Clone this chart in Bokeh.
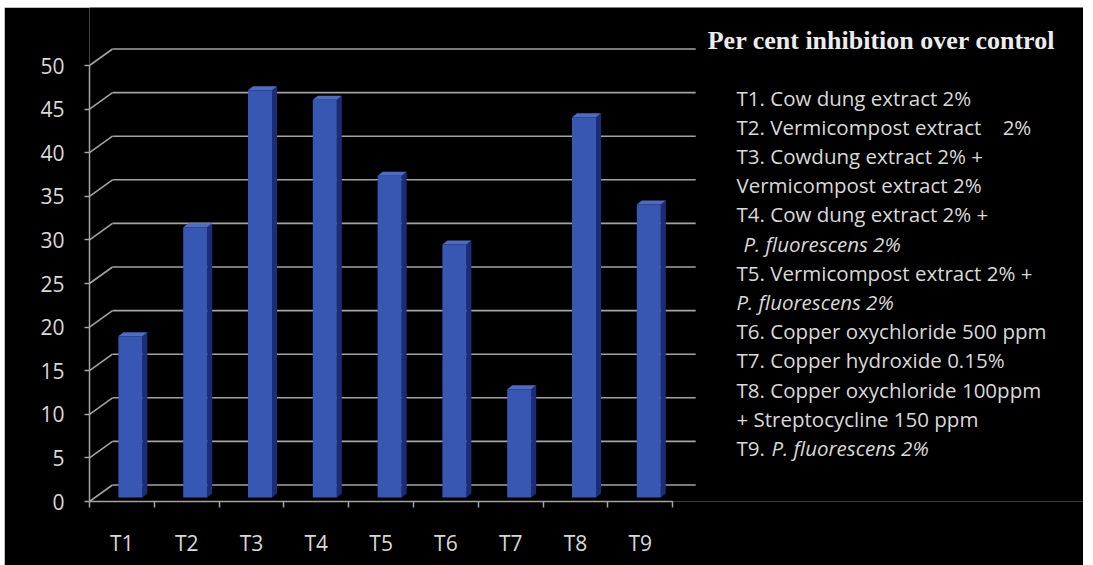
from bokeh.plotting import figure
from bokeh.models import Range1d, FixedTicker, Spacer
from bokeh.layouts import column, row
from bokeh.core.properties import value
from bokeh.embed import file_html
from bokeh.resources import INLINE

# ---- data -------------------------------------------------------------
treatments = ["T1", "T2", "T3", "T4", "T5", "T6", "T7", "T8", "T9"]
inhibition = [18.5, 31.0, 46.7, 45.6, 36.9, 29.0, 12.4, 43.6, 33.6]
y_ticks = [0, 5, 10, 15, 20, 25, 30, 35, 40, 45, 50]

legend_title = "Per cent inhibition over control"
# (regular part, italic part, italic indent in px)
legend_lines = [
    ("T1. Cow dung extract 2%", "", 0),
    ("T2. Vermicompost extract\u00a0\u00a0\u00a0\u00a02%", "", 0),
    ("T3. Cowdung extract 2% +", "", 0),
    ("Vermicompost extract 2%", "", 0),
    ("T4. Cow dung extract 2% +", "", 0),
    ("", "P. fluorescens 2%", 7),
    ("T5. Vermicompost extract 2% +", "", 0),
    ("", "P. fluorescens 2%", 0),
    ("T6. Copper oxychloride 500 ppm", "", 0),
    ("T7. Copper hydroxide 0.15%", "", 0),
    ("T8. Copper oxychloride 100ppm", "", 0),
    ("+ Streptocycline 150 ppm", "", 0),
    ("T9. ", "P. fluorescens 2%", 35),
]

# ---- geometry (pixels) ------------------------------------------------
PAGE_LEFT, PAGE_TOP = 4, 7
FIG_W, FIG_H = 1079, 558
BORDER_L, BORDER_B = 85, 64
PX_X = 64.8          # pixels per category
PX_Y = 8.72          # pixels per percent
frame_w = FIG_W - BORDER_L
frame_h = FIG_H - BORDER_B
frame_left_page = PAGE_LEFT + BORDER_L
frame_bottom_page = PAGE_TOP + frame_h


def px_x(page_x):
    return (page_x - frame_left_page) / PX_X


def px_y(page_y):
    return (frame_bottom_page - page_y) / PX_Y


DEPTH_X = 23 / PX_X      # back wall offset
DEPTH_Y = 16.5 / PX_Y
BAR_SHIFT = 8.5 / PX_X   # bars sit a little behind the front axis
BAR_BASE = 4 / PX_Y
BAR_W = 24 / PX_X
CAP_X = 5 / PX_X         # bar depth (side / top faces)
CAP_Y = 4 / PX_Y

GRID = "#a3a3a3"
TEXT = "#d9d9d9"

p = figure(width=FIG_W, height=FIG_H,
           x_range=Range1d(0, frame_w / PX_X), y_range=Range1d(0, frame_h / PX_Y),
           output_backend="svg", toolbar_location=None,
           min_border_left=BORDER_L, min_border_right=0,
           min_border_top=0, min_border_bottom=BORDER_B,
           background_fill_color="black", border_fill_color="black",
           outline_line_color=None)
p.grid.visible = False

n = len(treatments)

# back wall gridlines and the floor/side diagonals
p.segment(x0=[DEPTH_X] * len(y_ticks), y0=[v + DEPTH_Y for v in y_ticks],
          x1=[n + DEPTH_X] * len(y_ticks), y1=[v + DEPTH_Y for v in y_ticks],
          line_color=GRID, line_width=1.6)
p.segment(x0=[0] * len(y_ticks), y0=y_ticks,
          x1=[DEPTH_X] * len(y_ticks), y1=[v + DEPTH_Y for v in y_ticks],
          line_color=GRID, line_width=1.6)

# 3-D columns: front face, darker side face, lighter top face
centers = [i + 0.5 + BAR_SHIFT for i in range(n)]
tops = [BAR_BASE + v for v in inhibition]
lefts = [c - BAR_W / 2 for c in centers]
rights = [c + BAR_W / 2 for c in centers]

side_xs = [[r, r + CAP_X, r + CAP_X, r] for r in rights]
side_ys = [[BAR_BASE, BAR_BASE + CAP_Y, t + CAP_Y, t] for t in tops]
p.patches(side_xs, side_ys, fill_color="#1c2c78", line_color=None)

top_xs = [[l, r, r + CAP_X, l + CAP_X] for l, r in zip(lefts, rights)]
top_ys = [[t, t, t + CAP_Y, t + CAP_Y] for t in tops]
p.patches(top_xs, top_ys, fill_color="#4d6cc6", line_color=None)

p.vbar(x=centers, width=BAR_W, bottom=BAR_BASE, top=tops,
       fill_color="#3857b2", line_color=None)

# axes
p.yaxis.ticker = FixedTicker(ticks=y_ticks, minor_ticks=[])
p.yaxis.bounds = (0, 50)
p.yaxis.axis_line_color = GRID
p.yaxis.axis_line_width = 1.5
p.yaxis.major_tick_line_color = GRID
p.yaxis.major_tick_line_width = 1.5
p.yaxis.major_tick_out = 5
p.yaxis.major_tick_in = 0
p.yaxis.minor_tick_line_color = None
p.yaxis.major_label_text_color = TEXT
p.yaxis.major_label_text_font = "Open Sans"
p.yaxis.major_label_text_font_size = "21px"
p.yaxis.major_label_standoff = 20

label_pos = [i + 0.5 for i in range(n)]
p.xaxis.ticker = FixedTicker(ticks=label_pos, minor_ticks=list(range(n + 1)))
p.xaxis.bounds = (0, n)
p.xaxis.major_label_overrides = {pos: name for pos, name in zip(label_pos, treatments)}
p.xaxis.axis_line_color = GRID
p.xaxis.axis_line_width = 1.5
p.xaxis.major_tick_line_color = None
p.xaxis.major_tick_out = 0
p.xaxis.major_tick_in = 0
p.xaxis.minor_tick_line_color = GRID
p.xaxis.minor_tick_line_width = 1.5
p.xaxis.minor_tick_out = 6
p.xaxis.minor_tick_in = 0
p.xaxis.major_label_text_color = TEXT
p.xaxis.major_label_text_font = "Open Sans"
p.xaxis.major_label_text_font_size = "21px"
p.xaxis.major_label_standoff = 21

# legend block on the right
p.text(x=[px_x(881)], y=[px_y(40)], text=[legend_title],
       text_font=value("Liberation Serif"), text_font_style="bold",
       text_font_size=value("26px"), text_color="#ececec",
       text_align="center", text_baseline="middle")

LEG_X, LEG_Y0, LEG_DY = 736, 97, 29.2
reg_x, reg_y, reg_t = [], [], []
ita_x, ita_y, ita_t = [], [], []
for k, (reg, ita, indent) in enumerate(legend_lines):
    yy = px_y(LEG_Y0 + k * LEG_DY)
    if reg:
        reg_x.append(px_x(LEG_X)); reg_y.append(yy); reg_t.append(reg)
    if ita:
        ita_x.append(px_x(LEG_X + indent)); ita_y.append(yy); ita_t.append(ita)

p.text(x=reg_x, y=reg_y, text=reg_t, text_font=value("Open Sans"),
       text_font_size=value("20.5px"), text_color=TEXT,
       text_align="left", text_baseline="middle")
p.text(x=ita_x, y=ita_y, text=ita_t, text_font=value("Open Sans"),
       text_font_style="italic", text_font_size=value("20.5px"), text_color=TEXT,
       text_align="left", text_baseline="middle")

layout = column(Spacer(height=PAGE_TOP, width=FIG_W + PAGE_LEFT),
                row(Spacer(width=PAGE_LEFT, height=FIG_H), p))

open("out.html", "w").write(file_html(layout, INLINE))
